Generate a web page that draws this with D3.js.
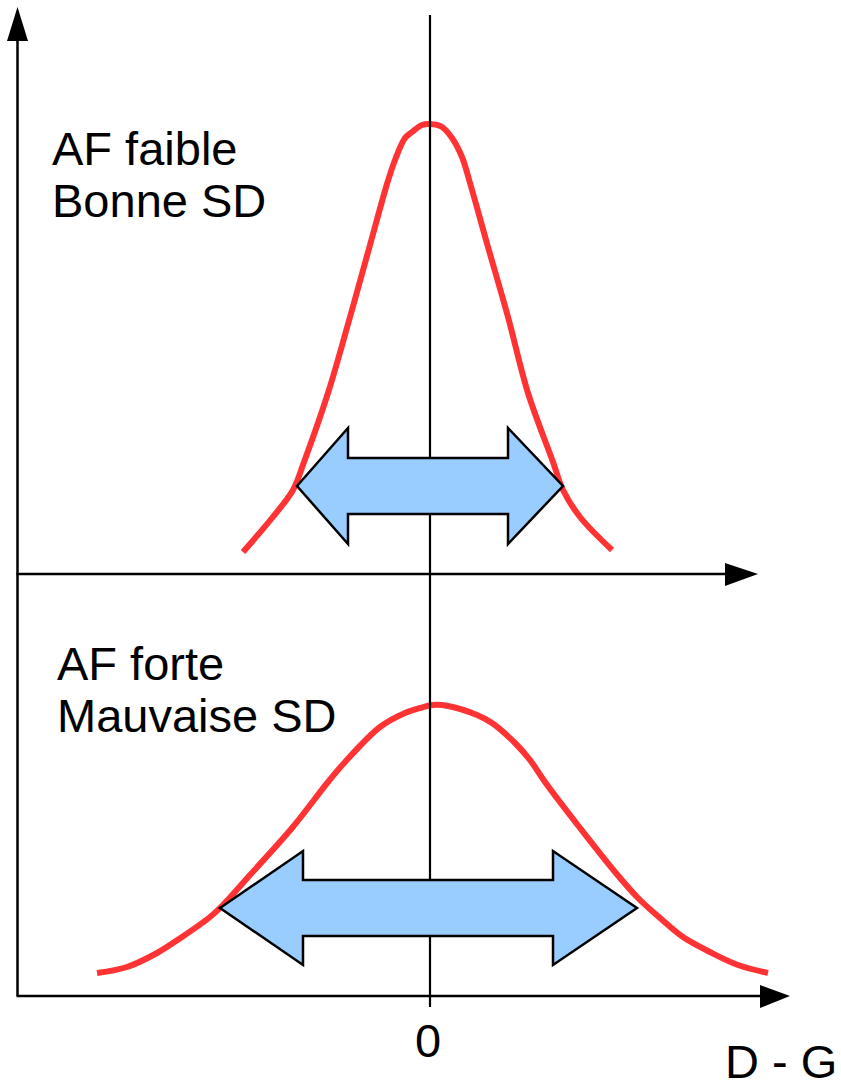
<!DOCTYPE html>
<html>
<head>
<meta charset="utf-8">
<script src="https://cdn.jsdelivr.net/npm/d3@7"></script>
<style>
  html, body { margin: 0; padding: 0; background: #fff; }
  svg { display: block; }
  text { font-family: "Liberation Sans", Arial, Helvetica, sans-serif; fill: #000; }
</style>
</head>
<body>
<script>
// ---- data (x: D - G offset from 0; y: height above each panel's axis) ----
const topCurveX = [-1.87, -1.58, -1.37, -1.26, -1.02, -0.80, -0.60, -0.43, -0.35, -0.25, -0.18, -0.08, 0.00, 0.12, 0.22, 0.32, 0.40, 0.58, 0.78, 0.98, 1.23, 1.33, 1.50, 1.82];
const topCurveY = [0.22, 0.56, 0.84, 1.12, 1.81, 2.57, 3.29, 3.90, 4.14, 4.36, 4.42, 4.49, 4.50, 4.47, 4.36, 4.17, 3.91, 3.27, 2.57, 1.81, 1.12, 0.84, 0.57, 0.24];
const botCurveX = [-3.33, -3.03, -2.73, -2.48, -2.20, -2.07, -1.80, -1.38, -1.02, -0.85, -0.50, -0.25, -0.10, 0.03, 0.18, 0.47, 0.62, 0.85, 1.00, 1.15, 1.50, 1.85, 2.08, 2.30, 2.53, 2.80, 3.08, 3.38];
const botCurveY = [0.23, 0.29, 0.43, 0.59, 0.79, 0.91, 1.21, 1.68, 2.14, 2.34, 2.69, 2.83, 2.88, 2.91, 2.90, 2.81, 2.73, 2.53, 2.36, 2.14, 1.68, 1.24, 0.98, 0.78, 0.59, 0.44, 0.31, 0.23];
// arrows: [tipLeft, headLeft, headRight, tipRight, centerY, shaftHalf, headHalf]
const topArrow = [-1.33, -0.82, 0.78, 1.33, 0.88, 0.28, 0.58];
const botArrow = [-2.10, -1.27, 1.23, 2.07, 0.88, 0.28, 0.57];
const topLabels = ["AF faible", "Bonne SD"];
const botLabels = ["AF forte", "Mauvaise SD"];
const xTickLabels = ["0"];
const xAxisTitle = "D - G";

// ---- layout ----
const W = 841, H = 1089;
const svg = d3.select("body").append("svg").attr("width", W).attr("height", H);

const x = d3.scaleLinear().domain([-4.125, 3.6]).range([17.5, 790]);
const yTop = d3.scaleLinear().domain([0, 5.67]).range([574, 7]);
const yBot = d3.scaleLinear().domain([0, 4.2]).range([996, 576]);

const red = "#ff3333";
const blue = "#99ccff";

// curves
function drawCurve(xs, ys, yScale) {
  const pts = xs.map((v, i) => [v, ys[i]]);
  const line = d3.line().x(d => x(d[0])).y(d => yScale(d[1])).curve(d3.curveCatmullRom.alpha(0.5));
  svg.append("path").datum(pts).attr("d", line)
    .attr("fill", "none").attr("stroke", red).attr("stroke-width", 6)
    .attr("stroke-linejoin", "round").attr("stroke-linecap", "butt");
}
drawCurve(topCurveX, topCurveY, yTop);
drawCurve(botCurveX, botCurveY, yBot);

// center vertical line at x = 0
svg.append("line").attr("x1", x(0)).attr("x2", x(0))
  .attr("y1", 15).attr("y2", yBot(0) + 11)
  .attr("stroke", "#000").attr("stroke-width", 2.2);

// double arrows
function drawArrow(a, yScale) {
  const [tl, hl, hr, tr, cy, sh, hh] = a;
  const pts = [
    [tl, cy], [hl, cy + hh], [hl, cy + sh], [hr, cy + sh], [hr, cy + hh],
    [tr, cy], [hr, cy - hh], [hr, cy - sh], [hl, cy - sh], [hl, cy - hh]
  ];
  svg.append("polygon")
    .attr("points", pts.map(p => [x(p[0]), yScale(p[1])].join(",")).join(" "))
    .attr("fill", blue).attr("stroke", "#000").attr("stroke-width", 2.5)
    .attr("stroke-linejoin", "miter");
}
drawArrow(topArrow, yTop);
drawArrow(botArrow, yBot);

// axes
const x0 = x.range()[0];
svg.append("line").attr("x1", x0).attr("x2", x0).attr("y1", 40).attr("y2", yBot(0))
  .attr("stroke", "#000").attr("stroke-width", 2.5);
svg.append("polygon").attr("points", `${x0},7 ${x0 - 10.5},41 ${x0 + 10.5},41`).attr("fill", "#000");

// top horizontal axis
svg.append("line").attr("x1", x0 - 1).attr("x2", 726).attr("y1", yTop(0)).attr("y2", yTop(0))
  .attr("stroke", "#000").attr("stroke-width", 2.5);
svg.append("polygon").attr("points", `725,${yTop(0) - 11} 758,${yTop(0)} 725,${yTop(0) + 12}`).attr("fill", "#000");

// bottom horizontal axis
svg.append("line").attr("x1", x0 - 1).attr("x2", 761).attr("y1", yBot(0)).attr("y2", yBot(0))
  .attr("stroke", "#000").attr("stroke-width", 2.5);
svg.append("polygon").attr("points", `760,${yBot(0) - 11} 790,${yBot(0)} 760,${yBot(0) + 12}`).attr("fill", "#000");

// labels
const fs = 47;
topLabels.forEach((t, i) => {
  svg.append("text").attr("x", 52).attr("y", 165 + i * 52).attr("font-size", fs).text(t);
});
botLabels.forEach((t, i) => {
  svg.append("text").attr("x", 57).attr("y", 680 + i * 52).attr("font-size", fs).text(t);
});
xTickLabels.forEach(t => {
  svg.append("text").attr("x", x(0) - 2).attr("y", 1057).attr("text-anchor", "middle")
    .attr("font-size", fs).text(t);
});
svg.append("text").attr("x", 725).attr("y", 1078).attr("font-size", fs).text(xAxisTitle);
</script>
</body>
</html>
